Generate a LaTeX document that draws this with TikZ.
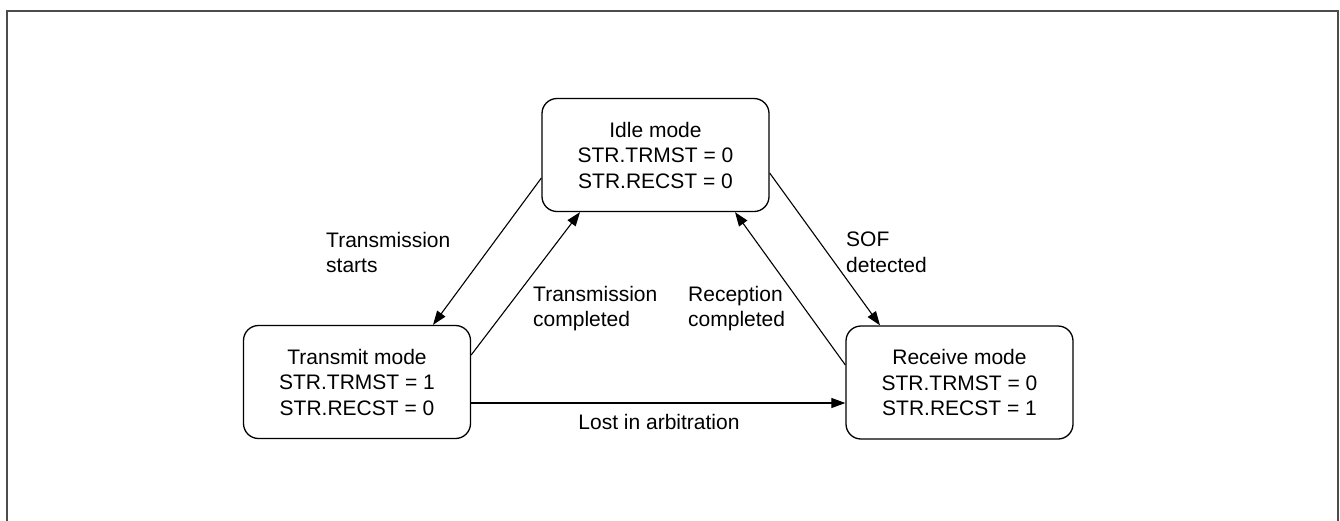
\documentclass[tikz,border=0pt]{standalone}
\usepackage{fontspec}
\setmainfont{Liberation Sans}
\usetikzlibrary{arrows.meta}
\tikzset{
  state/.style={draw=black, line width=1.3pt, rounded corners=15pt, minimum width=227pt, minimum height=113pt, align=center, inner sep=0pt, font=\fontsize{21}{25.5}\selectfont},
  lbl/.style={align=left, inner sep=0pt, anchor=north west, font=\fontsize{21}{25.5}\selectfont},
  conn/.style={draw=black, line width=1.1pt, -{Triangle[length=14pt,width=10pt]}},
}
\begin{document}
\begin{tikzpicture}[x=1pt,y=-1pt]
\useasboundingbox (0,0) rectangle (1340,520);
\clip (0,0) rectangle (1340,520);
\draw[draw=black!70, line width=2.4pt] (7,11) rectangle (1338,540);
\node[state] (idle) at (655.5,155) {Idle mode\\STR.TRMST = 0\\STR.RECST = 0};
\node[state] (tx) at (357,382) {Transmit mode\\STR.TRMST = 1\\STR.RECST = 0};
\node[state] (rx) at (959.5,382.5) {Receive mode\\STR.TRMST = 0\\STR.RECST = 1};
\draw[conn] ([yshift=-23pt]idle.west) -- ([xshift=76pt]tx.north);
\draw[conn] ([yshift=27pt]tx.east) -- ([xshift=-75.5pt]idle.south);
\draw[conn] ([yshift=-18pt]idle.east) -- ([xshift=-79.5pt]rx.north);
\draw[conn] ([yshift=17.5pt]rx.west) -- ([xshift=79.5pt]idle.south);
\draw[conn] ([yshift=-21pt]tx.east) -- ([yshift=-20.5pt]rx.west);
\node[lbl] (l1) at (326,232) {Transmission\\starts};
\node[lbl] (l2) at (533,286) {Transmission\\completed};
\node[lbl] (l3) at (688,286) {Reception\\completed};
\node[lbl] (l4) at (846,232) {SOF\\detected};
\node[anchor=base, inner sep=0pt, font=\fontsize{21}{25.5}\selectfont] (l5) at (659,429) {Lost in arbitration};
\end{tikzpicture}
\end{document}
